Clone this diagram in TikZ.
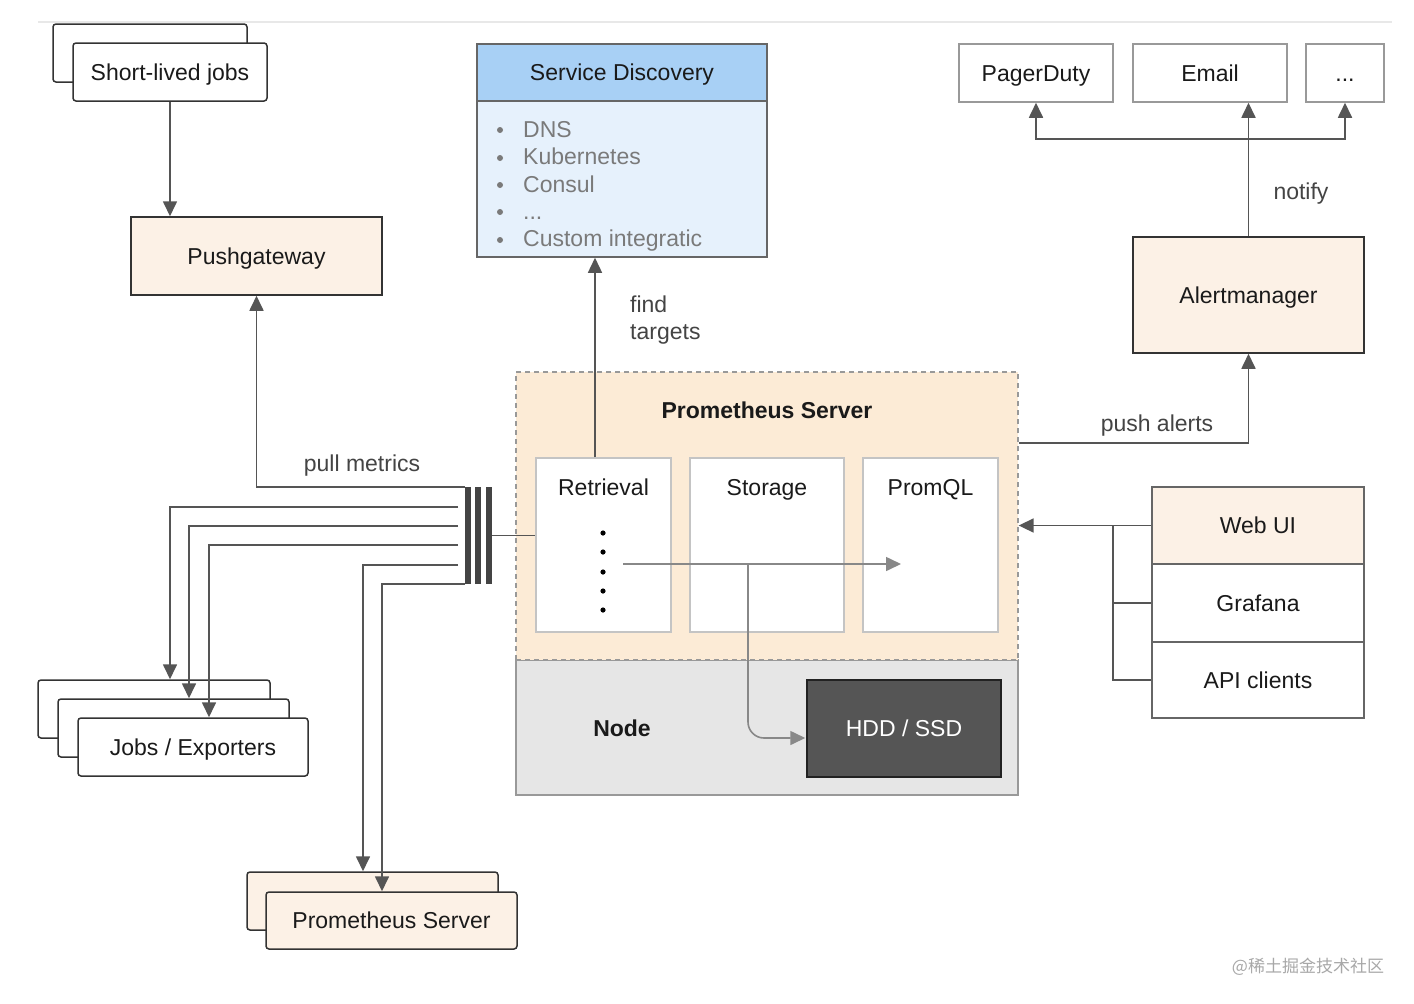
\documentclass[tikz,border=0pt]{standalone}
\usepackage{fontspec}
\setmainfont{Liberation Sans}
\newfontfamily\cjkfont{Noto Sans CJK SC}
\usetikzlibrary{arrows.meta,calc}
\definecolor{peach}{HTML}{FCF1E6}
\definecolor{promfill}{HTML}{FCEBD6}
\definecolor{sdheadc}{HTML}{A8D0F5}
\definecolor{sdbodyc}{HTML}{E6F1FC}
\definecolor{sdline}{HTML}{666666}
\definecolor{nodefill}{HTML}{E6E6E6}
\definecolor{hddfill}{HTML}{555555}
\definecolor{hddline}{HTML}{222222}
\definecolor{darkline}{HTML}{333333}
\definecolor{grayline}{HTML}{999999}
\definecolor{stackline}{HTML}{666666}
\definecolor{lightline}{HTML}{C4C4C4}
\definecolor{connc}{HTML}{555555}
\definecolor{flowc}{HTML}{888888}
\definecolor{txt}{HTML}{1A1A1A}
\definecolor{labeltxt}{HTML}{444444}
\definecolor{listtxt}{HTML}{7A7A7A}
\definecolor{bardark}{HTML}{444444}
\definecolor{wmc}{HTML}{A8A8A8}
\definecolor{topl}{HTML}{E8E8E8}
\newcommand\fsmain{\fontsize{23}{27}\selectfont}
\begin{document}
\begin{tikzpicture}[x=1pt,y=-1pt,
  box/.style={draw=darkline,line width=1.5pt,inner sep=0pt,font=\fsmain,text=txt,text height=16.5pt,text depth=0pt},
  rbox/.style={box,rounded corners=3pt},
  gbox/.style={box,draw=grayline,fill=white},
  lbl/.style={inner sep=0pt,font=\fsmain,text=labeltxt,text height=16.5pt,text depth=0pt},
  ttl/.style={inner sep=0pt,font=\fsmain,text=txt,text height=16.5pt,text depth=0pt},
  listitem/.style={inner sep=0pt,anchor=west,font=\fsmain,text=listtxt,text height=16.5pt,text depth=0pt},
  wire/.style={draw=connc,line width=1.7pt},
  flow/.style={draw=flowc,line width=1.6pt},
  arrowed/.style={-{Triangle[length=15pt,width=14pt]}},
  farrowed/.style={-{Triangle[length=15pt,width=14pt,color=flowc]}},
  bar/.style={fill=bardark,inner sep=0pt,minimum width=6.5pt,minimum height=97pt}
]
\useasboundingbox (0,0) rectangle (1414,1004);
\fill[white] (0,0) rectangle (1414,1004);
\coordinate (tl1) at (38,22);
\coordinate (tl2) at (1392,22);
\draw[topl,line width=1.5pt] (tl1) -- (tl2);

% short-lived jobs and pushgateway
\node[rbox,fill=white,minimum width=194pt,minimum height=58pt] (sljb) at (150,53) {};
\node[rbox,fill=white,minimum width=194pt,minimum height=58pt] (slj) at (170,72) {Short-lived jobs};
\node[box,fill=peach,minimum width=251pt,minimum height=78pt] (push) at (256.5,256) {Pushgateway};

% service discovery
\node[box,draw=sdline,fill=sdbodyc,minimum width=290pt,minimum height=156pt] (sdb) at (622,179) {};
\node[box,draw=sdline,fill=sdheadc,minimum width=290pt,minimum height=57pt] (sdh) at (622,72.5) {Service Discovery};
\node[listitem] (li1) at (523,129.5) {DNS};
\node[listitem] (li2) at (523,156.5) {Kubernetes};
\node[listitem] (li3) at (523,184) {Consul};
\node[listitem] (li4) at (523,211) {...};
\node[listitem] (li5) at (523,238) {Custom integratic};
\foreach \yy in {130,158,185,212,240} \fill[listtxt] (500,\yy) circle[radius=3pt];

% alerting
\node[gbox,minimum width=154pt,minimum height=58pt] (pager) at (1036,73) {PagerDuty};
\node[gbox,minimum width=154pt,minimum height=58pt] (email) at (1210,73) {Email};
\node[gbox,minimum width=78pt,minimum height=58pt] (more) at (1345,73) {...};
\node[box,fill=peach,minimum width=231pt,minimum height=116pt] (alert) at (1248.5,295) {Alertmanager};
\node[lbl] (notify) at (1301,191) {notify};

% prometheus server
\node[box,draw=grayline,fill=nodefill,minimum width=502pt,minimum height=135pt] (nodebox) at (767,727.5) {};
\node[box,draw=grayline,dashed,dash pattern=on 5pt off 4pt,line width=1.3pt,fill=promfill,minimum width=502pt,minimum height=288pt] (promsrv) at (767,516) {};
\node[ttl,font=\fsmain\bfseries] (pstitle) at (767,410) {Prometheus Server};
\node[box,draw=lightline,fill=white,minimum width=135pt,minimum height=174pt] (retr) at (603.5,545) {};
\node[box,draw=lightline,fill=white,minimum width=154pt,minimum height=174pt] (stor) at (767,545) {};
\node[box,draw=lightline,fill=white,minimum width=135pt,minimum height=174pt] (promql) at (930.5,545) {};
\node[ttl] (retrt) at ($(retr.north)+(0,30)$) {Retrieval};
\node[ttl] (stort) at ($(stor.north)+(0,30)$) {Storage};
\node[ttl] (promqlt) at ($(promql.north)+(0,30)$) {PromQL};
\foreach \yy in {533,552,572,591,610} \fill[black] (603,\yy) circle[radius=2.6pt];
\node[ttl,font=\fsmain\bfseries] (nodet) at (622,728.5) {Node};
\node[box,draw=hddline,fill=hddfill,text=white,minimum width=194pt,minimum height=97pt] (hdd) at (904,728.5) {HDD / SSD};

% inner flows
\coordinate (fs) at (623,564);
\coordinate (fe) at (901,564);
\coordinate (fb) at (748,564);
\coordinate (hddin) at ($(hdd.west)+(-1,9.5)$);
\draw[flow,farrowed] (fs) -- (fe);
\draw[flow,farrowed,rounded corners=16pt] (fb) |- (hddin);

% clients
\node[box,draw=stackline,fill=peach,minimum width=212pt,minimum height=77pt] (webui) at (1258,525.5) {Web UI};
\node[box,draw=stackline,fill=white,minimum width=212pt,minimum height=78pt] (grafana) at (1258,603) {Grafana};
\node[box,draw=stackline,fill=white,minimum width=212pt,minimum height=76pt] (api) at (1258,680) {API clients};

% targets
\node[rbox,fill=white,minimum width=232pt,minimum height=58pt] (jb1) at (154,709) {};
\node[rbox,fill=white,minimum width=231pt,minimum height=58pt] (jb2) at (173.5,728) {};
\node[rbox,fill=white,minimum width=230pt,minimum height=58pt] (jb3) at (193,747) {Jobs / Exporters};
\node[rbox,fill=peach,minimum width=251pt,minimum height=58pt] (ps1) at (372.5,901) {};
\node[rbox,fill=peach,minimum width=251pt,minimum height=57pt] (ps2) at (391.5,920.5) {Prometheus Server};

% bars
\node[bar] (bar1) at (468,535.5) {};
\node[bar] (bar2) at (478,535.5) {};
\node[bar] (bar3) at (489,535.5) {};

% labels
\node[lbl] (pullm) at (362,463) {pull metrics};
\node[lbl] (pusha) at (1157,423) {push alerts};
\node[lbl,anchor=west] (find1) at (630,304) {find};
\node[lbl,anchor=west] (find2) at (630,331) {targets};

% connectors
\draw[wire,arrowed] (slj.south) -- (slj.south |- push.north);
\draw[wire,arrowed] (bar1.north west) -| (push.south);
\coordinate (p1) at (458,507);
\coordinate (p2) at (458,526);
\coordinate (p3) at (458,545);
\coordinate (p4) at (458,565);
\draw[wire,arrowed] (p1) -| ($(jb1.north)+(16,0)$);
\draw[wire,arrowed] (p2) -| ($(jb2.north)+(15.5,0)$);
\draw[wire,arrowed] (p3) -| ($(jb3.north)+(16,0)$);
\draw[wire,arrowed] (p4) -| ($(ps1.north)+(-9.5,0)$);
\draw[wire,arrowed] (bar1.south west) -| ($(ps2.north)+(-9.5,0)$);
\draw[wire,line width=1.3pt] (bar3.east) -- (bar3.east -| retr.west);
\coordinate (rtop) at ($(retr.north)+(-8.5,0)$);
\draw[wire,line width=1.4pt,arrowed] (rtop) -- (rtop |- sdb.south);
\draw[wire,arrowed] (alert.north) -- (alert.north |- email.south);
\coordinate (fork) at ($(alert.north)+(0,-97)$);
\draw[wire,arrowed] (fork) -| (pager.south);
\draw[wire,arrowed] (fork) -| (more.south);
\coordinate (pa) at ($(promsrv.east)+(0,-73)$);
\draw[wire,arrowed] (pa) -| (alert.south);
\draw[wire,arrowed] (webui.west) -- (webui.west -| promsrv.east);
\coordinate (wj) at ($(webui.west)+(-38,0)$);
\draw[wire] (wj) |- (api.west);
\draw[wire] (wj |- grafana.west) -- (grafana.west);

% watermark
\node[inner sep=0pt,font=\cjkfont\fontsize{17}{20}\selectfont,text=wmc] (wm) at (1308,967) {@稀土掘金技术社区};
\end{tikzpicture}
\end{document}
